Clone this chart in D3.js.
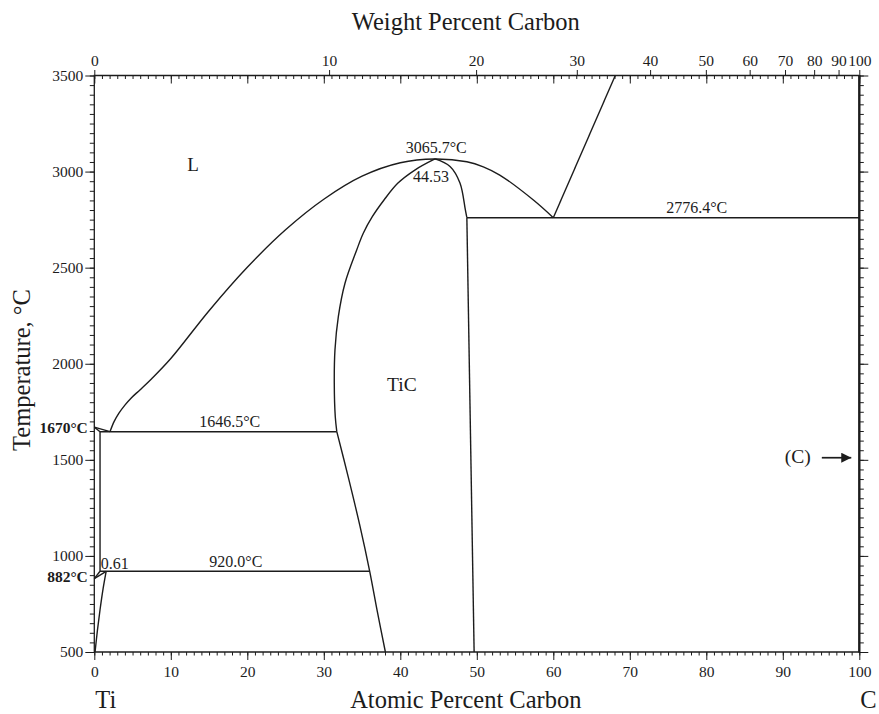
<!DOCTYPE html>
<html>
<head>
<meta charset="utf-8">
<script src="https://cdn.jsdelivr.net/npm/d3@7"></script>
<style>
  body { margin: 0; background: #fff; }
  svg { display: block; }
</style>
</head>
<body>
<script>
// Ti-C phase diagram

var svgWidth = 879;
var svgHeight = 714;
var serif = "Liberation Serif, Times New Roman, Times, serif";
var ink = "#1c1c1c";

// tick labels
var atTicks = [0, 10, 20, 30, 40, 50, 60, 70, 80, 90, 100];
var wtTicks = [0, 10, 20, 30, 40, 50, 60, 70, 80, 90, 100];
var tempTicks = [500, 1000, 1500, 2000, 2500, 3000, 3500];

// phase boundaries, [atomic % C, temperature °C]
var liquidusTi = [[0, 1670], [2.05, 1646.5]];
var liquidus = [[2.05, 1646.5], [2.6, 1700], [3.2, 1742], [4.0, 1785], [4.8, 1821],
    [6, 1865], [7.5, 1922], [10, 2027], [15, 2276], [20, 2502], [25, 2697],
    [30, 2856], [35, 2976], [40, 3046], [44.53, 3065.7],
    [48.7, 3051], [50.85, 3025], [53.0, 2982], [57.4, 2852], [60.0, 2760]];
var graphiteLiquidus = [[60.0, 2760], [68.1, 3500]];
var ticUpperLeft = [[44.53, 3065.7], [41.9, 3008], [39.66, 2939], [37.87, 2852], [36.34, 2765],
    [35.16, 2679], [34.3, 2592], [32.77, 2419], [31.9, 2245], [31.46, 2072],
    [31.37, 1898], [31.5, 1724], [31.7, 1646.5]];
var ticLowerLeft = [[31.7, 1646.5], [33.2, 1410], [34.7, 1160], [36.0, 920], [37.0, 710], [38.05, 500]];
var ticUpperRight = [[44.53, 3065.7], [46.5, 3027], [47.8, 2941], [48.5, 2802], [48.7, 2760]];
var ticLowerRight = [[48.7, 2760], [49.65, 500]];
var eutectic = [[48.7, 2760], [100, 2760]];
var peritectic = [[0.75, 1646.5], [31.7, 1646.5]];
var solidusTi = [[0, 1670], [0.75, 1646.5]];
var betaSolvus = [[0.75, 1646.5], [0.75, 920]];
var eutectoid = [[0.75, 920], [36.0, 920]];
var betaTransus = [[0, 882], [0.75, 920]];
var alphaTransus = [[0, 882], [1.55, 920]];
var alphaSolvus = [[1.55, 920], [1.15, 830], [0.75, 720], [0.4, 610], [0.1, 500]];

var straight = [liquidusTi, graphiteLiquidus, ticLowerRight, eutectic, peritectic, solidusTi,
    betaSolvus, eutectoid, betaTransus, alphaTransus];
var curved = [liquidus, ticUpperLeft, ticLowerLeft, ticUpperRight, alphaSolvus];

// weight % -> atomic % carbon (C 12.011, Ti 47.867)
function wtToAt(w) {
    var c = w / 12.011;
    var t = (100 - w) / 47.867;
    return 100 * c / (c + t);
}

var x = d3.scaleLinear().domain([0, 100]).range([94.3, 859.3]);
var y = d3.scaleLinear().domain([500, 3500]).range([652, 75.5]);
// top axis: piecewise scale that lands each weight tick on its atomic position
var xWt = d3.scaleLinear().domain(wtTicks).range(wtTicks.map(w => x(wtToAt(w))));

var svg = d3.select("body").append("svg")
    .attr("width", svgWidth)
    .attr("height", svgHeight)
    .style("font-family", serif);

svg.append("rect").attr("width", svgWidth).attr("height", svgHeight).attr("fill", "#fff");

function addTicks(axisGen, scale, values, size, translate, fmt, pad) {
    var g = svg.append("g")
        .attr("transform", translate)
        .call(axisGen(scale).tickValues(values).tickSize(size).tickSizeOuter(0)
            .tickPadding(pad || 3).tickFormat(fmt || ""));
    g.attr("font-family", serif).attr("font-size", 15.5);
    g.select(".domain").remove();
    g.selectAll("line").attr("stroke", ink).attr("stroke-width", 1);
    g.selectAll("text")
        .style("font-family", serif)
        .style("font-size", "15.5px")
        .attr("fill", ink);
    return g;
}

var minorAt = d3.range(0, 101, 1);
var minorT = d3.range(500, 3501, 50);
var x0 = x(0), x1 = x(100), yb = y(500), yt = y(3500);

// left axis
addTicks(d3.axisLeft, y, minorT, 4.5, `translate(${x0},0)`);
addTicks(d3.axisLeft, y, tempTicks, 9, `translate(${x0},0)`, d3.format("d"), 2);
// right edge
addTicks(d3.axisRight, y, minorT, 4.5, `translate(${x1},0)`);
addTicks(d3.axisRight, y, tempTicks, 9, `translate(${x1},0)`);
// bottom axis
addTicks(d3.axisBottom, x, minorAt, 3.5, `translate(0,${yb})`);
addTicks(d3.axisBottom, x, atTicks, 8, `translate(0,${yb})`, d3.format("d"), 6);
// top edge: atomic ticks pointing in, weight ticks pointing out
addTicks(d3.axisBottom, x, minorAt, 3.5, `translate(0,${yt})`);
addTicks(d3.axisBottom, x, atTicks, 8, `translate(0,${yt})`);
addTicks(d3.axisTop, xWt, wtTicks, 5.5, `translate(0,${yt})`, d3.format("d"), 4.5);

// frame
svg.append("path")
    .attr("d", `M${x1},${yt}H${x0}V${yb}H${x1}`)
    .attr("fill", "none").attr("stroke", ink).attr("stroke-width", 1.3);
svg.append("line")
    .attr("x1", x1).attr("x2", x1).attr("y1", yt - 0.5).attr("y2", yb + 0.5)
    .attr("stroke", ink).attr("stroke-width", 2.4);

// phase boundaries
var lineStraight = d3.line().x(d => x(d[0])).y(d => y(d[1]));
var lineCurve = d3.line().x(d => x(d[0])).y(d => y(d[1])).curve(d3.curveCatmullRom.alpha(0.5));

var phase = svg.append("g")
    .attr("fill", "none")
    .attr("stroke", ink)
    .attr("stroke-width", 1.4)
    .attr("stroke-linejoin", "round");

phase.selectAll("path.s").data(straight).enter().append("path")
    .attr("class", "s").attr("d", lineStraight);
phase.selectAll("path.c").data(curved).enter().append("path")
    .attr("class", "c").attr("d", lineCurve);

// annotations
function label(text, at, t, size, anchor, weight) {
    return svg.append("text")
        .attr("x", x(at)).attr("y", y(t))
        .attr("text-anchor", anchor || "middle")
        .style("font-family", serif)
        .style("font-size", size + "px")
        .attr("font-weight", weight || "normal")
        .attr("fill", ink)
        .text(text);
}

label("L", 12.9, 3004, 19);
label("3065.7°C", 44.7, 3095, 16);
label("44.53", 44.0, 2947, 16);
label("2776.4°C", 78.75, 2783, 16);
label("TiC", 40.2, 1860, 19.5);
label("1646.5°C", 17.7, 1671, 16);
label("920.0°C", 18.5, 942, 16);
label("0.61", 0.84, 932, 16, "start");
label("(C)", 93.65, 1485, 19.5, "end");

svg.append("text").attr("x", x0 - 6.5).attr("y", y(1670) + 6)
    .attr("text-anchor", "end").style("font-family", serif)
    .style("font-size", "15.5px").attr("font-weight", "bold").attr("fill", ink)
    .text("1670°C");
svg.append("text").attr("x", x0 - 6.5).attr("y", y(882) + 3)
    .attr("text-anchor", "end").style("font-family", serif)
    .style("font-size", "15.5px").attr("font-weight", "bold").attr("fill", ink)
    .text("882°C");

// arrow toward pure carbon
svg.append("defs").append("marker")
    .attr("id", "arrow")
    .attr("viewBox", "0 0 10 10")
    .attr("refX", 10).attr("refY", 5)
    .attr("markerWidth", 14).attr("markerHeight", 10)
    .attr("markerUnits", "userSpaceOnUse")
    .attr("orient", "auto")
    .append("path").attr("d", "M0,0L10,5L0,10Z").attr("fill", ink);

svg.append("line")
    .attr("x1", x(95.1)).attr("x2", x(98.95))
    .attr("y1", y(1511)).attr("y2", y(1511))
    .attr("stroke", ink).attr("stroke-width", 1.7)
    .attr("marker-end", "url(#arrow)");

// titles
function title(text, px, py, anchor) {
    return svg.append("text")
        .attr("x", px).attr("y", py)
        .attr("text-anchor", anchor)
        .style("font-family", serif)
        .style("font-size", "24.5px")
        .attr("fill", ink)
        .text(text);
}

title("Weight Percent Carbon", (x0 + x1) / 2 - 11, 30, "middle");
title("Atomic Percent Carbon", (x0 + x1) / 2 - 11, 708, "middle");
title("Ti", x0 + 1, 708, "start");
title("C", x1 + 9, 708, "middle");
title("Temperature, °C", 0, 0, "middle")
    .attr("transform", "translate(30,370) rotate(-90)");
</script>
</body>
</html>
